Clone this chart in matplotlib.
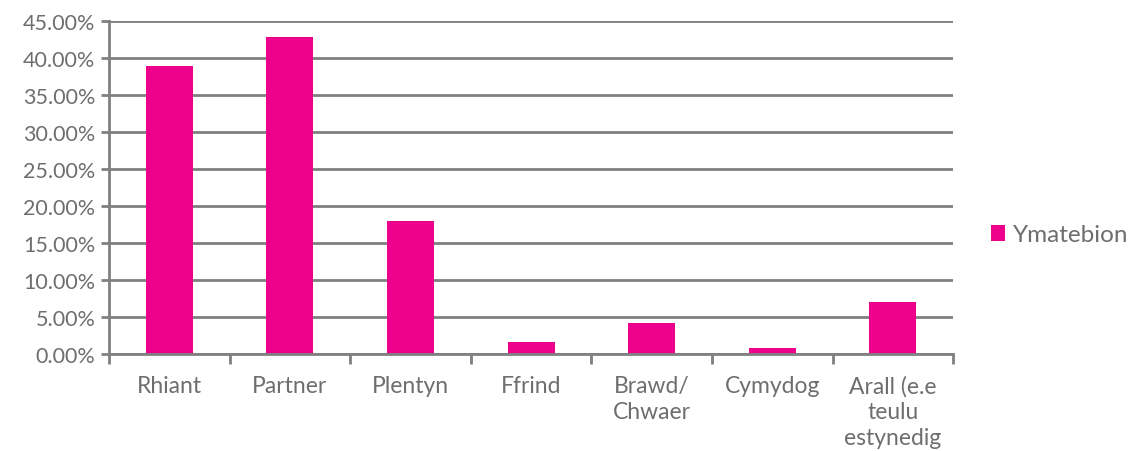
import matplotlib.pyplot as plt
import numpy as np
from matplotlib.patches import Patch
from matplotlib.ticker import FuncFormatter

categories = ["Rhiant", "Partner", "Plentyn", "Ffrind", "Brawd/\nChwaer",
              "Cymydog", "Arall (e.e\nteulu\nestynedig"]
responses = [38.9, 42.8, 18.0, 1.6, 4.2, 0.8, 7.0]
series_name = "Ymatebion"

PINK = "#EC008C"
GRID = "#808080"
TEXT = "#6e6e6e"

plt.rcParams["font.family"] = ["Lato", "DejaVu Sans"]

fig = plt.figure(figsize=(11.36, 4.52), dpi=100)
ax = fig.add_axes([0.096, 0.2146, 0.743, 0.7366])

x = np.arange(len(categories))
ax.bar(x, responses, width=0.39, color=PINK, zorder=3)

ax.set_xlim(-0.5, len(categories) - 0.5)
ax.set_ylim(0, 45)
ax.set_yticks(np.arange(0, 46, 5))
ax.yaxis.set_major_formatter(FuncFormatter(lambda v, p: f"{v:.2f}%"))
ax.grid(axis="y", color=GRID, linewidth=2, zorder=0)

# category labels centred, tick marks at category boundaries
ax.set_xticks(x)
ax.set_xticklabels(categories, linespacing=1.28)
ax.tick_params(axis="x", length=0, pad=15, labelsize=16.5, labelcolor=TEXT)
ax.set_xticks(np.arange(-0.5, len(categories)), minor=True)
ax.tick_params(axis="x", which="minor", length=7, width=2, color=GRID)

ax.tick_params(axis="y", length=6, width=2, color=GRID, pad=4,
               labelsize=15.5, labelcolor=TEXT)

for side in ["top", "right"]:
    ax.spines[side].set_visible(False)
for side in ["left", "bottom"]:
    ax.spines[side].set_color(GRID)
    ax.spines[side].set_linewidth(2)
    ax.spines[side].set_zorder(4)

handle = Patch(facecolor=PINK, edgecolor="none")
fig.legend([handle], [series_name], loc="center left",
           bbox_to_anchor=(0.853, 0.478), frameon=False, fontsize=17.5,
           labelcolor=TEXT, handlelength=0.6, handleheight=0.6,
           handletextpad=0.3)

fig.savefig("out.png", dpi=100)
